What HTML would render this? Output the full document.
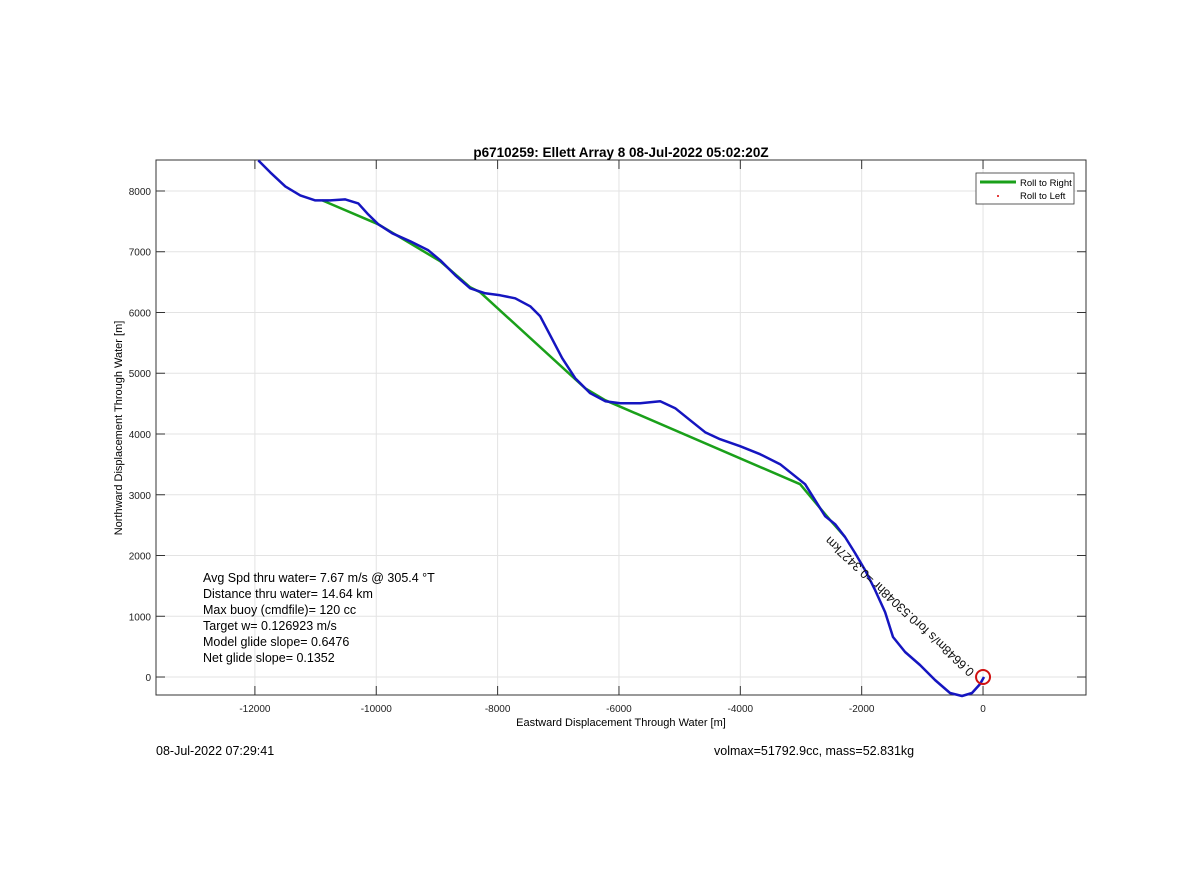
<!DOCTYPE html>
<html><head><meta charset="utf-8"><style>
body{margin:0;background:#fff;}
svg{display:block;font-family:"Liberation Sans",Arial,sans-serif;}
</style></head><body>
<svg id="chart" width="1200" height="889" viewBox="0 0 1200 889">
<rect width="1200" height="889" fill="#fff"/>
<g id="grid"></g>
<g id="axes"></g>
<g id="series"></g>
<text x="621" y="157" text-anchor="middle" font-size="13.5" font-weight="bold">p6710259: Ellett Array 8 08-Jul-2022 05:02:20Z</text>
<text x="621" y="726" text-anchor="middle" font-size="11">Eastward Displacement Through Water [m]</text>
<text transform="translate(122,428) rotate(-90)" text-anchor="middle" font-size="11">Northward Displacement Through Water [m]</text>
<g font-size="12.5">
<text x="203" y="582">Avg Spd thru water=  7.67 m/s @ 305.4 °T</text>
<text x="203" y="598">Distance thru water= 14.64 km</text>
<text x="203" y="614">Max buoy (cmdfile)= 120 cc</text>
<text x="203" y="630">Target w= 0.126923 m/s</text>
<text x="203" y="646">Model glide slope= 0.6476</text>
<text x="203" y="662">Net glide slope= 0.1352</text>
</g>
<text x="156" y="755" font-size="12.5">08-Jul-2022 07:29:41</text>
<text x="714" y="755" font-size="12.5">volmax=51792.9cc, mass=52.831kg</text>
<g>
<rect x="976" y="173" width="98" height="31" fill="#fff" stroke="#333" stroke-width="0.8"/>
<line x1="980" y1="182" x2="1016" y2="182" stroke="#1aa01a" stroke-width="3"/>
<text x="1020" y="186" font-size="9.5">Roll to Right</text>
<circle cx="998" cy="196" r="1" fill="#d00"/>
<text x="1020" y="199" font-size="9.5">Roll to Left</text>
</g>
</svg>
<script>
const xTicks=[-12000,-10000,-8000,-6000,-4000,-2000,0];
const yTicks=[0,1000,2000,3000,4000,5000,6000,7000,8000];
const blueX=[-11944,-11746,-11499,-11252,-11005,-10757,-10510,-10296,-10132,-9967,-9736,-9440,-9143,-8945,-8698,-8451,-8204,-7957,-7710,-7463,-7298,-7133,-6936,-6721,-6474,-6227,-5980,-5651,-5321,-5074,-4827,-4580,-4333,-4003,-3674,-3344,-3097,-2932,-2768,-2603,-2438,-2273,-2109,-1944,-1779,-1614,-1483,-1285,-1038,-791,-544,-346,-181,-49,16];
const blueY=[8503,8306,8076,7927,7845,7845,7862,7796,7615,7451,7303,7171,7023,6859,6612,6398,6316,6283,6234,6102,5938,5625,5247,4918,4671,4540,4507,4507,4540,4424,4227,4030,3914,3799,3668,3503,3306,3174,2911,2648,2516,2303,2039,1760,1431,1069,658,411,197,-49,-263,-312,-263,-115,0];
const greenX=[-10889,-9967,-8945,-8451,-8287,-6557,-6227,-3015,-2520,-2273];
const greenY=[7845,7451,6842,6414,6332,4753,4556,3174,2582,2303];
const X0=156,X1=1086,Y0=160,Y1=695;
const xmin=-13630,xmax=1697,ymin=-296,ymax=8510;
const sx=v=>X0+(v-xmin)/(xmax-xmin)*(X1-X0);
const sy=v=>Y1-(v-ymin)/(ymax-ymin)*(Y1-Y0);
const NS="http://www.w3.org/2000/svg";
function mk(tag,attrs,parent){const e=document.createElementNS(NS,tag);for(const k in attrs)e.setAttribute(k,attrs[k]);parent.appendChild(e);return e;}
const grid=document.getElementById('grid'),axes=document.getElementById('axes'),series=document.getElementById('series');
mk('rect',{x:X0,y:Y0,width:X1-X0,height:Y1-Y0,fill:'#fff'},grid);
xTicks.forEach(t=>{
  const l=mk('line',{x1:sx(t),x2:sx(t),y1:Y0,y2:Y1,stroke:'#e3e3e3','stroke-width':1},grid);
  
  
  mk('line',{x1:sx(t),x2:sx(t),y1:Y1,y2:Y1-9,stroke:'#333'},axes);
  mk('line',{x1:sx(t),x2:sx(t),y1:Y0,y2:Y0+9,stroke:'#333'},axes);
  const tx=mk('text',{x:sx(t),y:Y1+17,'text-anchor':'middle','font-size':10,fill:'#222'},axes);
  tx.textContent=t;
  
  
});
yTicks.forEach(t=>{
  const l=mk('line',{x1:X0,x2:X1,y1:sy(t),y2:sy(t),stroke:'#e3e3e3','stroke-width':1},grid);
  
  
  mk('line',{x1:X0,x2:X0+9,y1:sy(t),y2:sy(t),stroke:'#333'},axes);
  mk('line',{x1:X1,x2:X1-9,y1:sy(t),y2:sy(t),stroke:'#333'},axes);
  const tx=mk('text',{x:X0-5,y:sy(t)+4,'text-anchor':'end','font-size':10,fill:'#222'},axes);
  tx.textContent=t;
  
  
});
mk('rect',{x:X0,y:Y0,width:X1-X0,height:Y1-Y0,fill:'none',stroke:'#333','stroke-width':1},axes);
const pts=(xs,ys)=>xs.map((v,i)=>sx(v).toFixed(1)+','+sy(ys[i]).toFixed(1)).join(' ');
const g=mk('polyline',{points:pts(greenX,greenY),fill:'none',stroke:'#1aa01a','stroke-width':2.5},series);


const b=mk('polyline',{points:pts(blueX,blueY),fill:'none',stroke:'#1515c0','stroke-width':2.5,'stroke-linejoin':'round'},series);


const c=mk('circle',{cx:sx(0),cy:sy(0),r:7,fill:'none',stroke:'#d01010','stroke-width':2},series);


const lbl=mk('text',{transform:`translate(${sx(0)-8},${sy(0)-6}) rotate(-137)`,'font-size':12.5,fill:'#111'},series);
lbl.textContent='0.6648m/s for0.53048hr =0.3427km';


</script>
</body></html>
